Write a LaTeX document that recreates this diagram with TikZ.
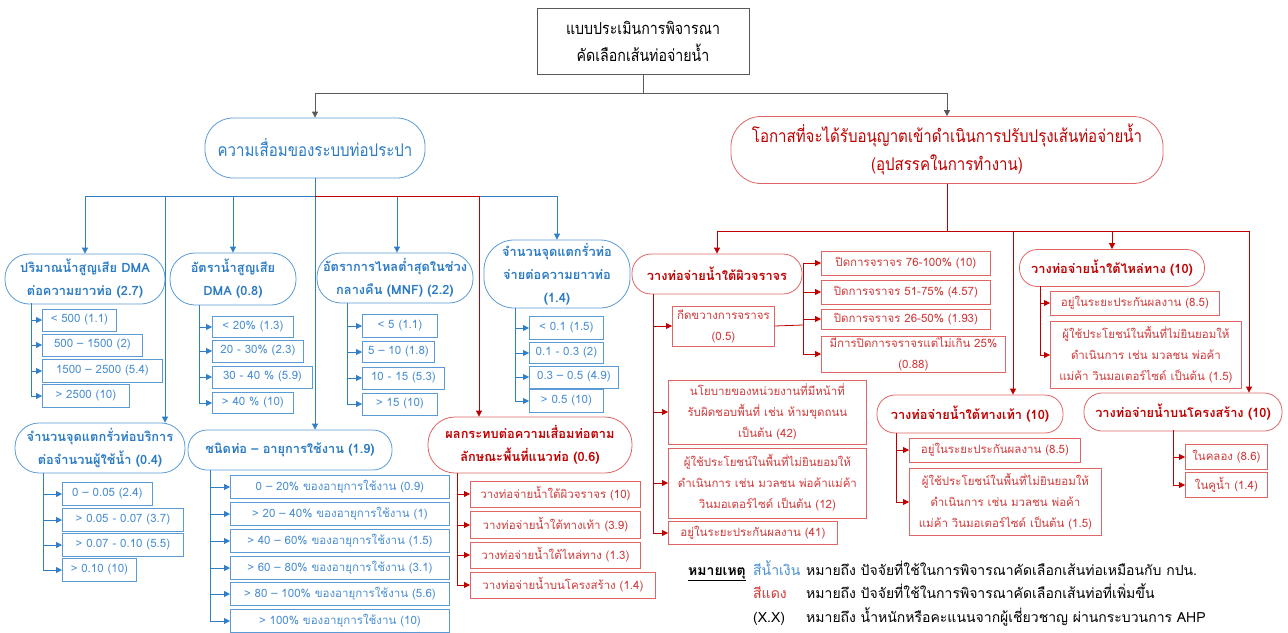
\documentclass[tikz,border=0pt]{standalone}
\usepackage{fontspec}
\setmainfont[Script=Thai]{Loma}
\newfontfamily\condfont[Script=Thai,FakeStretch=0.86]{Loma}
\usetikzlibrary{
  arrows.meta,
  positioning,
  calc,         % Shifted anchors $...$
}
\definecolor{topgray}{HTML}{595959}
\definecolor{lineblue}{HTML}{2F7FC8}
\definecolor{boxblue}{HTML}{5B9BD5}
\definecolor{txtblue}{HTML}{2B7BC4}
\definecolor{itemblue}{HTML}{4A8FD2}
\definecolor{linered}{HTML}{C00000}
\definecolor{boxred}{HTML}{E06666}
\definecolor{txtred}{HTML}{C00000}
\definecolor{itemred}{HTML}{D23A3A}
\def\mylw{0.8pt}
\tikzset{
  >={Triangle[length=6pt,width=6pt]},
  my top/.style={
    draw=topgray,
    line width=\mylw,
    align=center,
    minimum width=212pt,
    minimum height=66pt,
    font=\condfont\fontsize{16.5}{27}\selectfont
  },
  my oval/.style={
    draw,
    line width=\mylw,
    align=center,
    inner sep=2pt,
    font=\bfseries\fontsize{12.8}{23}\selectfont
  },
  my oval blue/.style={my oval, draw=boxblue, text=txtblue},
  my oval red/.style={my oval, draw=boxred, text=txtred},
  my head/.style={
    font=\condfont\fontsize{17.5}{28}\selectfont
  },
  my item/.style={
    draw,
    line width=\mylw,
    anchor=west,
    align=center,
    inner sep=1pt,
    font=\fontsize{11.5}{21}\selectfont
  },
  my item blue/.style={my item, draw=boxblue, text=itemblue},
  my item red/.style={my item, draw=boxred, text=itemred},
  my link top/.style={draw=topgray, line width=\mylw},
  my link blue/.style={draw=lineblue, line width=\mylw},
  my link red/.style={draw=linered, line width=\mylw},
  my note/.style={anchor=base west, inner sep=0pt, font=\fontsize{14}{16}\selectfont}
}

\begin{document}
\begin{tikzpicture}[x=1pt,y=-1pt]
\useasboundingbox (0,0) rectangle (1288,632);
\fill[white] (0,0) rectangle (1288,632);

% top level
\node[my top] (T) at (643,41) {แบบประเมินการพิจารณา\\คัดเลือกเส้นท่อจ่ายน้ำ};
\node[my oval blue,my head,minimum width=220pt,minimum height=60pt,rounded corners=28pt] (L) at (315,148)
  {ความเสื่อมของระบบท่อประปา};
\node[my oval red,my head,minimum width=432pt,minimum height=67pt,rounded corners=30pt] (R) at (947,150)
  {โอกาสที่จะได้รับอนุญาตเข้าดำเนินการปรับปรุงเส้นท่อจ่ายน้ำ\\(อุปสรรคในการทำงาน)};
\coordinate (Tbus) at (643,93);
\draw[my link top] (T.south) -- (Tbus);
\draw[my link top,->] (Tbus) -| (L.north);
\draw[my link top,->] (Tbus) -| (R.north);

% blue factors
\node[my oval blue,minimum width=160pt,minimum height=50pt,rounded corners=24pt] (A1) at (85,279)
  {ปริมาณน้ำสูญเสีย DMA\\ต่อความยาวท่อ (2.7)};
\node[my oval blue,minimum width=126pt,minimum height=52pt,rounded corners=25pt] (A2) at (233,279)
  {อัตราน้ำสูญเสีย\\DMA (0.8)};
\node[my oval blue,minimum width=156pt,minimum height=50pt,rounded corners=24pt] (A3) at (395,278)
  {อัตราการไหลต่ำสุดในช่วง\\กลางคืน (MNF) (2.2)};
\node[my oval blue,minimum width=146pt,minimum height=68pt,rounded corners=30pt] (A4) at (557,274)
  {จำนวนจุดแตกรั่วท่อ\\จ่ายต่อความยาวท่อ\\(1.4)};
\node[my oval blue,minimum width=170pt,minimum height=50pt,rounded corners=24pt] (A5) at (100,448)
  {จำนวนจุดแตกรั่วท่อบริการ\\ต่อจำนวนผู้ใช้น้ำ (0.4)};
\node[my oval blue,minimum width=204pt,minimum height=40pt,rounded corners=19pt] (A6) at (290,450)
  {ชนิดท่อ – อายุการใช้งาน (1.9)};
\node[my oval red,minimum width=204pt,minimum height=56pt,rounded corners=27pt] (A7) at (530,445)
  {ผลกระทบต่อความเสื่อมท่อตาม\\ลักษณะพื้นที่แนวท่อ (0.6)};

\coordinate (Lbus) at (315,196);
\draw[my link blue] (L.south) -- (Lbus);
\draw[my link blue,->] (Lbus) -| (A1.north);
\draw[my link blue,->] (Lbus) -| (A2.north);
\draw[my link blue,->] (Lbus) -| ($(A3.north)+(2,0)$);
\draw[my link blue,->] (Lbus) -| (A4.north);
\draw[my link blue,->] (Lbus) -| ($(A5.north)+(65,0)$);
\draw[my link blue,->] (Lbus) -- ($(A6.north)+(25,0)$);
\draw[my link red,->] (Lbus) -| ($(A7.north)+(-51,0)$);

% items of A1
\node[my item blue,minimum width=74pt,minimum height=22pt]  (A1b1) at (42,320) {< 500 (1.1)};
\node[my item blue,minimum width=100pt,minimum height=22pt] (A1b2) at (42,345) {500 – 1500 (2)};
\node[my item blue,minimum width=120pt,minimum height=23pt] (A1b3) at (42,371) {1500 – 2500 (5.4)};
\node[my item blue,minimum width=87pt,minimum height=23pt]  (A1b4) at (42,396) {> 2500 (10)};
% items of A2
\node[my item blue,minimum width=81pt,minimum height=21pt]  (A2b1) at (212,327) {< 20\% (1.3)};
\node[my item blue,minimum width=91pt,minimum height=22pt]  (A2b2) at (212,351) {20 - 30\% (2.3)};
\node[my item blue,minimum width=100pt,minimum height=22pt] (A2b3) at (212,377) {30 - 40 \% (5.9)};
\node[my item blue,minimum width=81pt,minimum height=21pt]  (A2b4) at (212,403) {> 40 \% (10)};
% items of A3
\node[my item blue,minimum width=75pt,minimum height=23pt] (A3b1) at (362,326) {< 5 (1.1)};
\node[my item blue,minimum width=72pt,minimum height=21pt] (A3b2) at (362,352) {5 – 10 (1.8)};
\node[my item blue,minimum width=82pt,minimum height=22pt] (A3b3) at (362,378) {10 - 15 (5.3)};
\node[my item blue,minimum width=75pt,minimum height=22pt] (A3b4) at (362,404) {> 15 (10)};
% items of A4
\node[my item blue,minimum width=74pt,minimum height=23pt] (A4b1) at (529,328) {< 0.1 (1.5)};
\node[my item blue,minimum width=74pt,minimum height=21pt] (A4b2) at (529,353) {0.1 - 0.3 (2)};
\node[my item blue,minimum width=89pt,minimum height=22pt] (A4b3) at (529,377) {0.3 – 0.5 (4.9)};
\node[my item blue,minimum width=74pt,minimum height=23pt] (A4b4) at (529,401) {> 0.5 (10)};
% items of A5
\node[my item blue,minimum width=90pt,minimum height=23pt]  (A5b1) at (62,494) {0 – 0.05 (2.4)};
\node[my item blue,minimum width=121pt,minimum height=23pt] (A5b2) at (62,520) {> 0.05 - 0.07 (3.7)};
\node[my item blue,minimum width=121pt,minimum height=23pt] (A5b3) at (62,545) {> 0.07 - 0.10 (5.5)};
\node[my item blue,minimum width=74pt,minimum height=23pt]  (A5b4) at (62,570) {> 0.10 (10)};
% items of A6
\node[my item blue,minimum width=219pt,minimum height=23pt] (A6b1) at (230,487) {0 – 20\% ของอายุการใช้งาน (0.9)};
\node[my item blue,minimum width=219pt,minimum height=23pt] (A6b2) at (230,514) {> 20 – 40\% ของอายุการใช้งาน (1)};
\node[my item blue,minimum width=219pt,minimum height=23pt] (A6b3) at (230,541) {> 40 – 60\% ของอายุการใช้งาน (1.5)};
\node[my item blue,minimum width=219pt,minimum height=23pt] (A6b4) at (230,568) {> 60 – 80\% ของอายุการใช้งาน (3.1)};
\node[my item blue,minimum width=219pt,minimum height=23pt] (A6b5) at (230,594) {> 80 – 100\% ของอายุการใช้งาน (5.6)};
\node[my item blue,minimum width=219pt,minimum height=23pt] (A6b6) at (230,621) {> 100\% ของอายุการใช้งาน (10)};
% items of A7
\node[my item red,minimum width=170pt,minimum height=26pt] (A7b1) at (470,494) {วางท่อจ่ายน้ำใต้ผิวจราจร (10)};
\node[my item red,minimum width=170pt,minimum height=27pt] (A7b2) at (470,525) {วางท่อจ่ายน้ำใต้ทางเท้า (3.9)};
\node[my item red,minimum width=170pt,minimum height=26pt] (A7b3) at (470,555) {วางท่อจ่ายน้ำใต้ไหล่ทาง (1.3)};
\node[my item red,minimum width=185pt,minimum height=26pt] (A7b4) at (470,585) {วางท่อจ่ายน้ำบนโครงสร้าง (1.4)};

\coordinate (A1s) at (31,303);
\coordinate (A2s) at (199,305);
\coordinate (A3s) at (347,303);
\coordinate (A4s) at (515,308);
\coordinate (A5s) at (43,473);
\coordinate (A6s) at (210,470);
\coordinate (A7s) at (457,473);
\foreach \a in {A1,A2,A3,A4,A5}
  \foreach \i in {1,...,4}
    \draw[my link blue,->] (\a s) |- (\a b\i.west);
\foreach \i in {1,...,6}
  \draw[my link blue,->] (A6s) |- (A6b\i.west);
\foreach \i in {1,...,4}
  \draw[my link red,->] (A7s) |- (A7b\i.west);

% red factors
\node[my oval red,minimum width=170pt,minimum height=40pt,rounded corners=19pt] (B1) at (717,274)
  {วางท่อจ่ายน้ำใต้ผิวจราจร};
\node[my oval red,minimum width=185pt,minimum height=37pt,rounded corners=18pt] (B2) at (1112,268)
  {วางท่อจ่ายน้ำใต้ไหล่ทาง (10)};
\node[my oval red,minimum width=186pt,minimum height=38pt,rounded corners=18pt] (B3) at (970,414)
  {วางท่อจ่ายน้ำใต้ทางเท้า (10)};
\node[my oval red,minimum width=198pt,minimum height=38pt,rounded corners=18pt] (B4) at (1183,412)
  {วางท่อจ่ายน้ำบนโครงสร้าง (10)};

\coordinate (Rbus) at (947,231);
\draw[my link red] (R.south) -- (Rbus);
\draw[my link red,->] (Rbus) -| (B1.north);
\draw[my link red,->] (Rbus) -| (B2.north);
\draw[my link red,->] (Rbus) -| ($(B3.north)+(43,0)$);
\draw[my link red,->] (Rbus) -| ($(B4.north)+(66,0)$);

% items of B1
\node[my item red,minimum width=102pt,minimum height=40pt] (C1) at (672,326) {กีดขวางการจราจร\\(0.5)};
\node[my item red,minimum width=198pt,minimum height=64pt] (C2) at (668,412)
  {นโยบายของหน่วยงานที่มีหน้าที่\\รับผิดชอบพื้นที่ เช่น ห้ามขุดถนน\\เป็นต้น (42)};
\node[my item red,minimum width=198pt,minimum height=70pt] (C3) at (668,483)
  {ผู้ใช้ประโยชน์ในพื้นที่ไม่ยินยอมให้\\ดำเนินการ เช่น มวลชน พ่อค้าแม่ค้า\\วินมอเตอร์ไซด์ เป็นต้น (12)};
\node[my item red,minimum width=169pt,minimum height=23pt] (C4) at (668,533) {อยู่ในระยะประกันผลงาน (41)};
% items of C1
\node[my item red,minimum width=169pt,minimum height=24pt] (D1) at (821,263) {ปิดการจราจร 76-100\% (10)};
\node[my item red,minimum width=169pt,minimum height=24pt] (D2) at (821,292) {ปิดการจราจร 51-75\% (4.57)};
\node[my item red,minimum width=169pt,minimum height=20pt] (D3) at (821,319) {ปิดการจราจร 26-50\% (1.93)};
\node[my item red,minimum width=184pt,minimum height=36pt] (D4) at (821,354) {มีการปิดการจราจรแต่ไม่เกิน 25\%\\(0.88)};
% items of B2
\node[my item red,minimum width=169pt,minimum height=24pt] (E1) at (1050,303) {อยู่ในระยะประกันผลงาน (8.5)};
\node[my item red,minimum width=191pt,minimum height=67pt] (E2) at (1050,355)
  {ผู้ใช้ประโยชน์ในพื้นที่ไม่ยินยอมให้\\ดำเนินการ เช่น มวลชน พ่อค้า\\แม่ค้า วินมอเตอร์ไซด์ เป็นต้น (1.5)};
% items of B3
\node[my item red,minimum width=171pt,minimum height=24pt] (F1) at (909,450) {อยู่ในระยะประกันผลงาน (8.5)};
\node[my item red,minimum width=192pt,minimum height=67pt] (F2) at (909,502)
  {ผู้ใช้ประโยชน์ในพื้นที่ไม่ยินยอมให้\\ดำเนินการ เช่น มวลชน พ่อค้า\\แม่ค้า วินมอเตอร์ไซด์ เป็นต้น (1.5)};
% items of B4
\node[my item red,minimum width=82pt,minimum height=25pt] (G1) at (1185,457) {ในคลอง (8.6)};
\node[my item red,minimum width=82pt,minimum height=25pt] (G2) at (1185,485) {ในคูน้ำ (1.4)};

\coordinate (B1s) at (653,294);
\coordinate (C1j) at (803,325);
\coordinate (B2s) at (1040,286);
\coordinate (B3s) at (896,433);
\coordinate (B4s) at (1173,430);
\foreach \n in {C1,C2,C3,C4}
  \draw[my link red,->] (B1s) |- (\n.west);
\draw[my link red] (C1.east) -- (C1j);
\foreach \n in {D1,D2,D3,D4}
  \draw[my link red,->] (C1j) |- (\n.west);
\foreach \n in {E1,E2}
  \draw[my link red,->] (B2s) |- (\n.west);
\foreach \n in {F1,F2}
  \draw[my link red,->] (B3s) |- (\n.west);
\foreach \n in {G1,G2}
  \draw[my link red,->] (B4s) |- (\n.west);

% legend
\node[my note] (N0) at (688,575) {\underline{\textbf{หมายเหตุ}}};
\node[my note,text=itemblue] (N1) at (753,575) {สีน้ำเงิน};
\node[my note] (N1t) at (806,575) {หมายถึง ปัจจัยที่ใช้ในการพิจารณาคัดเลือกเส้นท่อเหมือนกับ กปน.};
\node[my note,text=itemred] (N2) at (753,598) {สีแดง};
\node[my note] (N2t) at (806,598) {หมายถึง ปัจจัยที่ใช้ในการพิจารณาคัดเลือกเส้นท่อที่เพิ่มขึ้น};
\node[my note] (N3) at (753,622) {(X.X)};
\node[my note] (N3t) at (806,622) {หมายถึง น้ำหนักหรือคะแนนจากผู้เชี่ยวชาญ ผ่านกระบวนการ AHP};
\end{tikzpicture}
\end{document}
